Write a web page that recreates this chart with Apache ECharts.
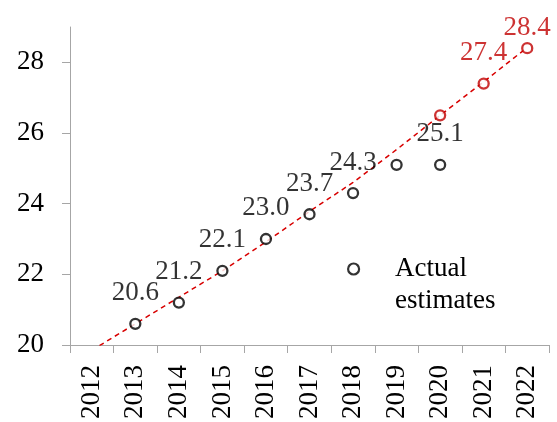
<!DOCTYPE html>
<html>
<head>
<meta charset="utf-8">
<script src="https://cdn.jsdelivr.net/npm/echarts@6/dist/echarts.min.js"></script>
<style>
html,body{margin:0;padding:0;background:#fff;}
#chart{width:557px;height:422px;}
</style>
</head>
<body>
<div id="chart"></div>
<script>
var years = ['2012','2013','2014','2015','2016','2017','2018','2019','2020','2021','2022'];
var actualValues = [null, 20.6, 21.2, 22.1, 23.0, 23.7, 24.3, 25.1, 25.1, null, null];
var actualLabels = ['', '20.6', '21.2', '22.1', '23.0', '23.7', '24.3', '', '25.1', '', ''];
var forecastValues = [null, null, null, null, null, null, null, null, 26.5, 27.4, 28.4];
var forecastLabels = ['', '', '', '', '', '', '', '', '', '27.4', '28.4'];
var trendValues = [19.85, 20.6, 21.35, 22.1, 22.92, 23.78, 24.6, 25.53, 26.5, 27.45, 28.42];
var yTicks = [20, 22, 24, 26, 28];
var legendName = 'Actual estimates';

var FONT = 'Liberation Serif';
var RED = '#c00000';
var chart = echarts.init(document.getElementById('chart'));

function labelData(values, lastDistance) {
  return values.map(function (v, i) {
    var item = { value: v };
    if (lastDistance != null && i === values.length - 1) {
      item.label = { distance: lastDistance };
    }
    return item;
  });
}

chart.setOption({
  animation: false,
  grid: { left: 70, right: 8, top: 27, bottom: 75 },
  legend: {
    data: [legendName],
    left: 347, top: 221,
    padding: 0,
    icon: 'circle',
    itemWidth: 11, itemHeight: 11,
    formatter: function () { return ' \nActual\nestimates'; },
    itemStyle: { color: 'rgba(0,0,0,0)', borderColor: '#000', borderWidth: 2.2 },
    textStyle: { fontFamily: FONT, fontSize: 27, color: '#000', lineHeight: 32, padding: [0, 0, 0, 31] }
  },
  xAxis: {
    type: 'category',
    data: years,
    boundaryGap: true,
    axisLine: { lineStyle: { color: '#a6a6a6', width: 1 } },
    axisTick: { show: true, interval: 0, length: 8, lineStyle: { color: '#a6a6a6' } },
    axisLabel: { interval: 0, rotate: 90, margin: 20, fontFamily: FONT, fontSize: 27, color: '#000' },
    splitLine: { show: false }
  },
  yAxis: {
    type: 'value',
    min: 20, max: 29, interval: 2,
    axisLine: { show: true, lineStyle: { color: '#a6a6a6', width: 1 } },
    axisTick: { show: true, length: 8, customValues: yTicks, lineStyle: { color: '#a6a6a6' } },
    axisLabel: { margin: 26, customValues: yTicks, fontFamily: FONT, fontSize: 27, color: '#000' },
    splitLine: { show: false }
  },
  series: [
    {
      name: 'trend',
      type: 'line',
      data: trendValues,
      symbol: 'none',
      clip: true,
      lineStyle: { color: '#d80000', width: 1.5, type: [5, 4] },
      z: 1
    },
    {
      name: legendName,
      type: 'scatter',
      data: labelData(actualValues),
      symbol: 'circle',
      symbolSize: 10,
      itemStyle: { color: '#fff', borderColor: '#000', borderWidth: 2.3 },
      label: {
        show: true, position: 'top', distance: 11,
        fontFamily: FONT, fontSize: 27, color: '#000',
        formatter: function (p) { return actualLabels[p.dataIndex]; }
      },
      z: 3
    },
    {
      name: 'forecast',
      type: 'scatter',
      data: labelData(forecastValues, 1),
      symbol: 'circle',
      symbolSize: 10,
      itemStyle: { color: '#fff', borderColor: RED, borderWidth: 2.3 },
      label: {
        show: true, position: 'top', distance: 11,
        fontFamily: FONT, fontSize: 27, color: RED,
        formatter: function (p) { return forecastLabels[p.dataIndex]; }
      },
      z: 3
    }
  ]
});
</script>
</body>
</html>
